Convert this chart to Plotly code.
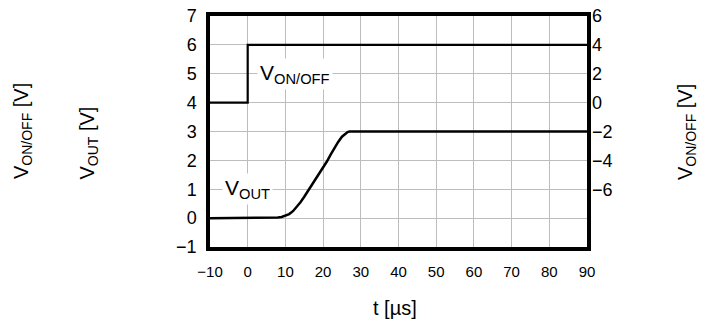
import plotly.graph_objects as go

# V_OUT trace (left axis)
t_out = [-10, 5, 7, 8, 9, 10, 11, 12, 13, 14, 15, 16, 17, 18, 19, 20, 21, 22, 23, 24, 25, 26, 26.5, 27, 90]
v_out = [0, 0, 0.01, 0.02, 0.04, 0.08, 0.14, 0.24, 0.38, 0.55, 0.74, 0.94, 1.13, 1.33, 1.53, 1.74, 1.96, 2.2, 2.43, 2.64, 2.82, 2.94, 2.98, 3.0, 3.0]

# V_ON/OFF trace (right axis)
t_on = [-10, 0, 0, 90]
v_on = [0, 0, 4, 4]

x_ticks = [-10, 0, 10, 20, 30, 40, 50, 60, 70, 80, 90]
y_left_ticks = [-1, 0, 1, 2, 3, 4, 5, 6, 7]
y_right_ticks = [-6, -4, -2, 0, 2, 4, 6]

FONT = "Liberation Sans, Arial, sans-serif"

W, H = 707, 329
# plot area, in pixels
L, R, T, B = 210, 587, 16, 247


def px_x(px):
    return (px - L) / (R - L)


def px_y(py):
    return (B - py) / (B - T)


fig = go.Figure()
fig.add_trace(go.Scatter(x=t_out, y=v_out, mode="lines",
                         line=dict(color="black", width=2.5),
                         yaxis="y", showlegend=False))
fig.add_trace(go.Scatter(x=t_on, y=v_on, mode="lines",
                         line=dict(color="black", width=2.2),
                         yaxis="y2", showlegend=False))

fig.update_layout(
    width=W, height=H,
    margin=dict(l=L, r=W - R, t=T, b=H - B, autoexpand=False),
    plot_bgcolor="white", paper_bgcolor="white",
    font=dict(family=FONT, color="black"),
    xaxis=dict(range=[-10, 90], tickvals=x_ticks, showgrid=True, gridcolor="#bdbdbd",
               gridwidth=1, zeroline=False, showline=True, linecolor="black",
               linewidth=3.5, mirror=True, ticks="", tickfont=dict(size=15),
               ticklabelstandoff=8, automargin=False),
    yaxis=dict(range=[-1, 7], tickvals=y_left_ticks, showgrid=True, gridcolor="#bdbdbd",
               gridwidth=1, zeroline=False, showline=True, linecolor="black",
               linewidth=3.5, mirror=True, ticks="", tickfont=dict(size=18),
               ticklabelstandoff=6, automargin=False, ticklabeloverflow="allow"),
    yaxis2=dict(range=[-10, 6], tickvals=y_right_ticks, overlaying="y", side="right",
                showgrid=False, zeroline=False, showline=False, ticks="",
                tickfont=dict(size=18), ticklabelstandoff=4, automargin=False,
                ticklabeloverflow="allow"),
)

annotations = [
    dict(x=12.5, y=5, xref="x", yref="y", text="V<sub>ON/OFF</sub>", showarrow=False,
         font=dict(size=21), bgcolor="white", borderpad=2),
    dict(x=0, y=1, xref="x", yref="y", text="V<sub>OUT</sub>", showarrow=False,
         font=dict(size=21), bgcolor="white", borderpad=2),
    dict(x=px_x(22), y=px_y(181), xref="paper", yref="paper", text="V<sub>ON/OFF</sub> [V]",
         textangle=-90, showarrow=False, xanchor="center", yanchor="bottom",
         font=dict(size=20)),
    dict(x=px_x(88), y=px_y(181), xref="paper", yref="paper", text="V<sub>OUT</sub> [V]",
         textangle=-90, showarrow=False, xanchor="center", yanchor="bottom",
         font=dict(size=20)),
    dict(x=px_x(686), y=px_y(182), xref="paper", yref="paper", text="V<sub>ON/OFF</sub> [V]",
         textangle=-90, showarrow=False, xanchor="center", yanchor="bottom",
         font=dict(size=20)),
    dict(x=px_x(395), y=px_y(308), xref="paper", yref="paper", text="t [µs]",
         showarrow=False, xanchor="center", yanchor="middle", font=dict(size=20)),
]
fig.update_layout(annotations=annotations)

# drop the browser's default body margin so the figure sits at the window's corner
fig.write_html("out.html", config={"displayModeBar": False},
               post_script="document.body.style.margin='0';")
